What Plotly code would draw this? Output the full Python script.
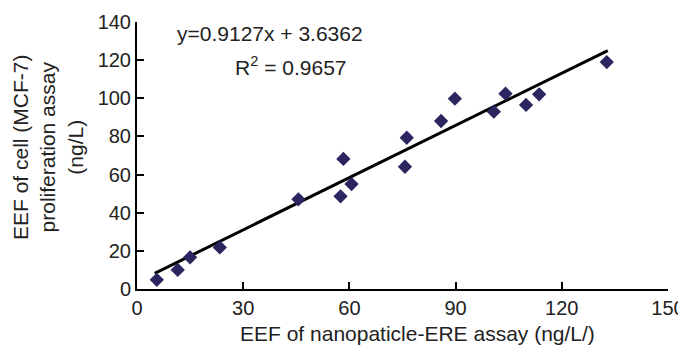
import plotly.graph_objects as go

# data
x_vals = [5.6, 11.5, 15.0, 23.4, 45.6, 57.5, 58.3, 60.6, 75.7, 76.2, 85.9, 89.8, 100.8, 104.1, 109.9, 113.6, 132.7]
y_vals = [4.8, 10.0, 16.6, 21.8, 47.0, 48.6, 68.2, 55.0, 64.1, 79.3, 88.1, 99.8, 93.0, 102.4, 96.5, 102.1, 119.0]
slope = 0.9127
intercept = 3.6362
fit_x = [5.0, 133.0]
fit_y = [slope * v + intercept for v in fit_x]
x_ticks = [0, 30, 60, 90, 120, 150]
y_ticks = [0, 20, 40, 60, 80, 100, 120, 140]

FONT = "Liberation Sans, Arial, sans-serif"
TXT = "#222222"

# page body has an 8px margin; the figure is shifted accordingly
OFF = 8
W, H = 686 - OFF, 347 - OFF
L, R, T, B = 137 - OFF, 18, 22 - OFF, 58
PW, PH = W - L - R, H - T - B


def px(xp):
    return (xp - OFF - L) / PW


def py(yp):
    return (H - B - (yp - OFF)) / PH


fig = go.Figure()
fig.add_trace(go.Scatter(x=fit_x, y=fit_y, mode="lines",
                         line=dict(color="black", width=3), showlegend=False))
fig.add_trace(go.Scatter(x=x_vals, y=y_vals, mode="markers",
                         marker=dict(symbol="diamond", size=11, color="#2b2660",
                                     line=dict(width=0)), showlegend=False))

fig.update_layout(
    width=W, height=H,
    margin=dict(l=L, r=R, t=T, b=B),
    paper_bgcolor="white", plot_bgcolor="white",
    font=dict(family=FONT, size=20, color=TXT),
    xaxis=dict(range=[0, 150], tickvals=x_ticks, showgrid=False, zeroline=False,
               showline=True, linecolor="black", linewidth=2, automargin=False,
               ticks="inside", ticklen=7, tickwidth=2, tickcolor="black",
               tickfont=dict(size=20, color=TXT)),
    yaxis=dict(range=[0, 140], tickvals=y_ticks, showgrid=False, zeroline=False,
               showline=True, linecolor="black", linewidth=2, automargin=False,
               ticks="inside", ticklen=7, tickwidth=2, tickcolor="black",
               tickfont=dict(size=20, color=TXT)),
    annotations=[
        dict(x=37.6, y=134, xref="x", yref="y", text="y=0.9127x + 3.6362",
             showarrow=False, font=dict(size=21, color=TXT)),
        dict(x=43.5, y=117, xref="x", yref="y",
             text="R<sup style='font-size:85%'>2</sup> = 0.9657",
             showarrow=False, font=dict(size=21, color=TXT)),
        dict(x=px(48), y=py(147), xref="paper", yref="paper",
             xanchor="center", yanchor="middle",
             text="EEF of cell (MCF-7)<br>proliferation assay<br>(ng/L)", textangle=-90,
             showarrow=False, font=dict(size=21, color=TXT)),
        dict(x=px(417), y=py(333), xref="paper", yref="paper",
             xanchor="center", yanchor="middle",
             text="EEF of nanopaticle-ERE assay (ng/L/)",
             showarrow=False, font=dict(size=21, color=TXT)),
    ],
)

fig.write_html("out.html")
